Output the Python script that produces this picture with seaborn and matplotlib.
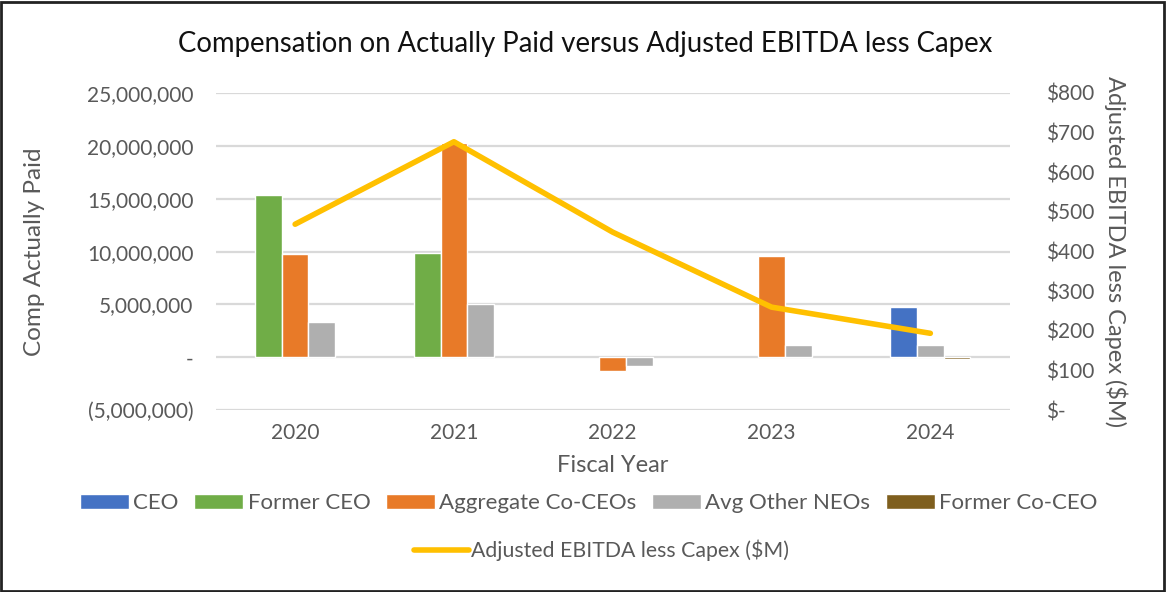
import numpy as np
import matplotlib
matplotlib.use("Agg")
import matplotlib.pyplot as plt
import seaborn as sns
from matplotlib.patches import Patch, Rectangle
from matplotlib.lines import Line2D
from matplotlib.ticker import FuncFormatter

sns.set_style("white")
plt.rcParams['font.family'] = ['Lato', 'DejaVu Sans']

# Data
years = ["2020", "2021", "2022", "2023", "2024"]
ceo = [np.nan, np.nan, np.nan, np.nan, 4800000]
former_ceo = [15350000, 9850000, np.nan, np.nan, np.nan]
co_ceos = [9750000, 20300000, -1300000, 9600000, np.nan]
avg_neos = [3350000, 5000000, -800000, 1200000, 1150000]
former_co_ceo = [np.nan, np.nan, np.nan, np.nan, -180000]
ebitda = [469, 677, 449, 260, 194]

# bar slot within each year group (Excel places the non-empty series in sequence)
series = [
    ("CEO", ceo, "#4472C4", [1, 1, 1, 1, 1]),
    ("Former CEO", former_ceo, "#70AD47", [1, 1, 1, 1, 1]),
    ("Aggregate Co-CEOs", co_ceos, "#E87A28", [2, 2, 2, 2, 2]),
    ("Avg Other NEOs", avg_neos, "#AFAFAF", [3, 3, 3, 3, 2]),
    ("Former Co-CEO", former_co_ceo, "#7F5F1E", [3, 3, 3, 3, 3]),
]

txt = "#595959"
fig = plt.figure(figsize=(11.66, 5.92), dpi=100)
ax = fig.add_axes([0.185, 0.307, 0.681, 0.536])

bw = 0.168
x = np.arange(len(years))
for name, vals, col, slots in series:
    pos = x + (np.array(slots) - 2) * bw
    ax.bar(pos, vals, width=bw, color=col, zorder=3)

ax.set_xlim(-0.5, len(years) - 0.5)
ax.set_ylim(-5000000, 25000000)
ax.set_yticks(np.arange(-5000000, 25000001, 5000000))

def left_fmt(v, p):
    if v == 0:
        return "-"
    if v < 0:
        return "({:,.0f})".format(-v)
    return "{:,.0f}".format(v)

ax.yaxis.set_major_formatter(FuncFormatter(left_fmt))
ax.set_xticks(x)
ax.set_xticklabels(years)
ax.grid(axis="y", color="#d9d9d9", linewidth=1.6, zorder=0)
for s in ax.spines.values():
    s.set_visible(False)
ax.tick_params(axis="y", length=0, pad=16, labelsize=15, labelcolor=txt)
ax.tick_params(axis="x", length=0, pad=9, labelsize=15, labelcolor=txt)
ax.set_xlabel("Fiscal Year", fontsize=17, color=txt, labelpad=9)
ax.set_ylabel("Comp Actually Paid", fontsize=17.5, color=txt, labelpad=30)

ax2 = ax.twinx()
sns.lineplot(x=x, y=ebitda, ax=ax2, color="#FFC000", linewidth=4,
             solid_capstyle="round", solid_joinstyle="round", zorder=4)
ax2.set_ylim(0, 800)
ax2.set_yticks(np.arange(0, 801, 100))
ax2.yaxis.set_major_formatter(FuncFormatter(lambda v, p: "$-" if v == 0 else "${:,.0f}".format(v)))
for s in ax2.spines.values():
    s.set_visible(False)
ax2.tick_params(axis="y", length=0, pad=26, labelsize=15, labelcolor=txt)
ax2.set_ylabel("Adjusted EBITDA less Capex ($M)", fontsize=17, color=txt,
               rotation=-90, labelpad=24)

fig.text(0.502, 0.925, "Compensation on Actually Paid versus Adjusted EBITDA less Capex",
         ha="center", va="center", fontsize=19.8, color="#111111")

handles = [Patch(facecolor=c, label=n) for n, v, c, s in series]
fig.legend(handles=handles, loc="center", bbox_to_anchor=(0.505, 0.15), ncol=5,
           frameon=False, fontsize=16, labelcolor=txt, handlelength=2.2,
           handleheight=0.65, handletextpad=0.2, columnspacing=0.7)
fig.legend(handles=[Line2D([0], [0], color="#FFC000", lw=4, solid_capstyle="round",
                           label="Adjusted EBITDA less Capex ($M)")],
           loc="center", bbox_to_anchor=(0.516, 0.07), frameon=False,
           fontsize=15.3, labelcolor=txt, handlelength=2.6, handletextpad=0.1)

fig.patches.append(Rectangle((0.001, 0.002), 0.997, 0.995, transform=fig.transFigure,
                             fill=False, edgecolor="#222222", linewidth=2))

fig.savefig("out.png", dpi=100)
